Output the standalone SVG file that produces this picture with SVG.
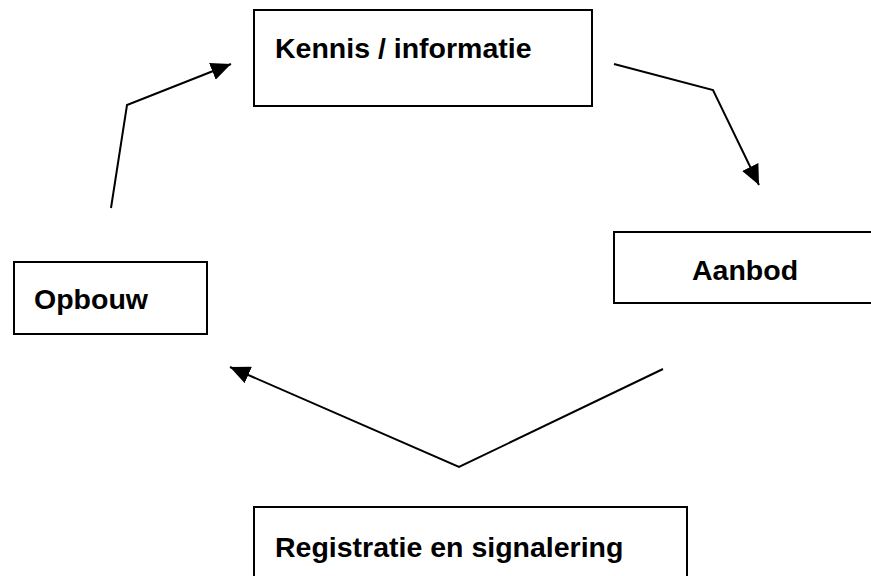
<svg xmlns="http://www.w3.org/2000/svg" width="871" height="576" viewBox="0 0 871 576">
<style>
.box{fill:#fff;stroke:#000;stroke-width:2}
.lbl{font-family:"Liberation Sans",Arial,sans-serif;font-weight:bold;font-size:28.5px;fill:#000}
.conn{fill:none;stroke:#000;stroke-width:2}
</style>
<defs>
<marker id="ah" markerUnits="userSpaceOnUse" markerWidth="22" markerHeight="18" refX="20" refY="9" orient="auto">
<path d="M0,0 L20,9 L0,18 Z" fill="#000"/>
</marker>
</defs>
<rect width="871" height="576" fill="#fff"/>
<g id="kennis"><rect class="box" x="254" y="10" width="338" height="96"/><text class="lbl" x="275" y="58">Kennis / informatie</text></g>
<g id="aanbod"><rect class="box" x="614" y="232" width="270" height="71"/><text class="lbl" x="692" y="280">Aanbod</text></g>
<g id="opbouw"><rect class="box" x="14" y="262" width="193" height="72"/><text class="lbl" x="34" y="309">Opbouw</text></g>
<g id="registratie"><rect class="box" x="254" y="507" width="433" height="80"/><text class="lbl" x="275" y="557">Registratie en signalering</text></g>
<g id="connectors">
<polyline class="conn" points="614,64 713,90 759,185" marker-end="url(#ah)"/>
<polyline class="conn" points="111,208 127,105 231,64" marker-end="url(#ah)"/>
<polyline class="conn" points="663,369 459,467 230,367" marker-end="url(#ah)"/>
</g>
</svg>
